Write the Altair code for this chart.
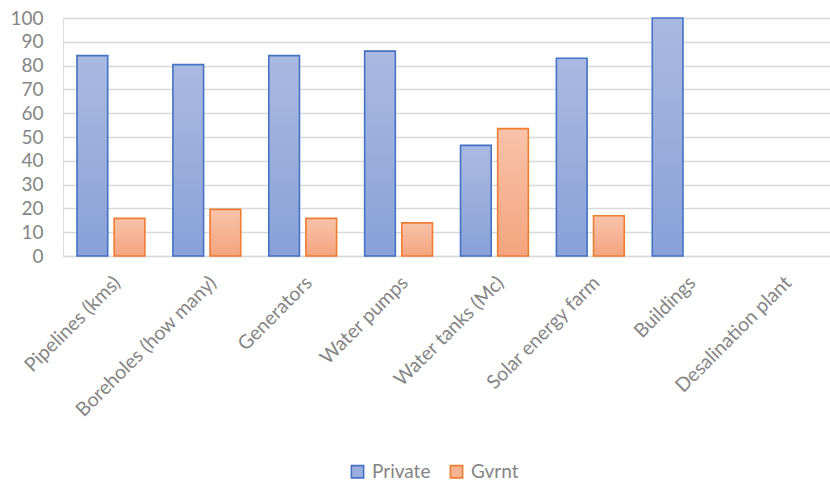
import altair as alt
import pandas as pd

categories = ["Pipelines (kms)", "Boreholes (how many)", "Generators", "Water pumps",
              "Water tanks (Mc)", "Solar energy farm", "Buildings", "Desalination plant"]
series_names = ["Private", "Gvrnt"]
private_vals = [84.2, 80.4, 84.2, 86.1, 46.5, 83.1, 100.0, None]
gvrnt_vals = [15.8, 19.6, 15.8, 13.9, 53.5, 16.9, None, None]
y_ticks = [0, 10, 20, 30, 40, 50, 60, 70, 80, 90, 100]

rows = []
for c, p, g in zip(categories, private_vals, gvrnt_vals):
    if p is not None:
        rows.append({"cat": c, "series": "Private", "value": p})
    if g is not None:
        rows.append({"cat": c, "series": "Gvrnt", "value": g})
df = pd.DataFrame(rows)
legend_df = pd.DataFrame({"series": series_names, "cat": categories[:2], "value": [0, 0]})

FONT = "Lato"
GREY = "#858585"

blue_grad = alt.LinearGradient(gradient="linear", x1=0, y1=0, x2=0, y2=1,
                               stops=[alt.GradientStop(offset=0, color="#AAB9E1"),
                                      alt.GradientStop(offset=1, color="#89A1D8")])
orange_grad = alt.LinearGradient(gradient="linear", x1=0, y1=0, x2=0, y2=1,
                                 stops=[alt.GradientStop(offset=0, color="#F7C3A9"),
                                        alt.GradientStop(offset=1, color="#F4A47E")])

x_enc = alt.X("cat:N", sort=categories,
              scale=alt.Scale(domain=categories, paddingInner=0, paddingOuter=0),
              axis=alt.Axis(title=None, labelAngle=-45, labelAlign="right", labelBaseline="top",
                            labelPadding=17, ticks=False, domainColor="#D9D9D9", domainWidth=1.5,
                            labelFont=FONT, labelFontSize=19.5, labelColor=GREY, labelLimit=400,
                            labelOverlap=False))
xoff_enc = alt.XOffset("series:N", sort=series_names,
                       scale=alt.Scale(domain=series_names, paddingInner=0.173, paddingOuter=0.377))
y_enc = alt.Y("value:Q", scale=alt.Scale(domain=[0, 100], nice=False),
              axis=alt.Axis(title=None, values=y_ticks, tickCount=len(y_ticks) + 1, ticks=False,
                            domain=False, labelPadding=20, labelOverlap=False, labelFlush=False,
                            gridColor="#D9D9D9", gridWidth=1.5, labelFont=FONT, labelFontSize=19,
                            labelColor=GREY))

base = alt.Chart(df).encode(x=x_enc, xOffset=xoff_enc, y=y_enc)

private_bars = base.transform_filter(alt.datum.series == "Private").mark_bar(
    color=blue_grad, stroke="#4472C4", strokeWidth=1.6)
gvrnt_bars = base.transform_filter(alt.datum.series == "Gvrnt").mark_bar(
    color=orange_grad, stroke="#ED7D31", strokeWidth=1.6)

legend_props = dict(title=None, orient="none", legendX=285, legendY=444,
                    direction="horizontal", symbolType="square", symbolSize=150,
                    symbolOpacity=1, symbolStrokeWidth=1.6, labelFont=FONT,
                    labelFontSize=19, labelColor=GREY, labelOffset=5, columnPadding=16)

legend_layer = alt.Chart(legend_df).mark_square(opacity=0).encode(
    x=x_enc,
    y=y_enc,
    fill=alt.Fill("series:N", sort=series_names,
                  scale=alt.Scale(domain=series_names, range=["#9BAEDD", "#F5B391"]),
                  legend=alt.Legend(**legend_props)),
    stroke=alt.Stroke("series:N", sort=series_names,
                      scale=alt.Scale(domain=series_names, range=["#4472C4", "#ED7D31"]),
                      legend=alt.Legend(**legend_props)),
)

chart = alt.layer(private_bars, gvrnt_bars, legend_layer).properties(
    width=767, height=238,
    autosize=alt.AutoSizeParams(type="none"),
    padding={"left": 63, "top": 18, "right": 0, "bottom": 225},
).configure_view(stroke=None).configure(background="white")

chart.save("out.html", embed_options={"renderer": "svg", "actions": False})
